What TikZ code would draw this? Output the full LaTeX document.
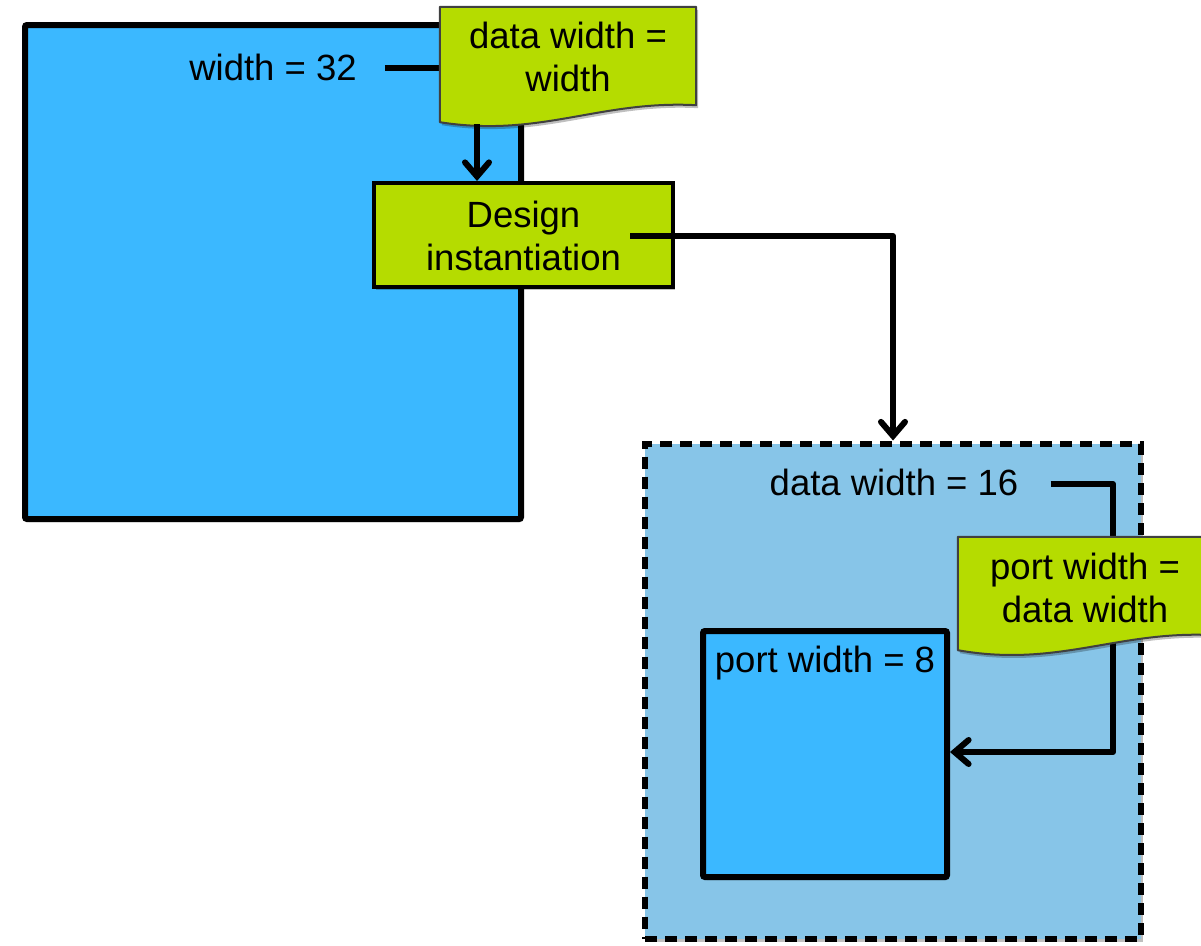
\documentclass[tikz,border=0pt]{standalone}
\usepackage{fontspec}
\setmainfont{Liberation Sans}
\usetikzlibrary{arrows.meta,shadows}
\definecolor{bigblue}{RGB}{59,184,255}
\definecolor{lightblue}{RGB}{135,197,232}
\definecolor{docgreen}{RGB}{181,220,0}
\begin{document}
\begin{tikzpicture}[x=1pt,y=-1pt,
  lbl/.style={font=\fontsize{36.5}{43}\selectfont, align=center, inner sep=0pt},
  softshadow/.style={drop shadow={shadow xshift=2pt,shadow yshift=-3pt,opacity=0.25,fill=black}},
  blockbox/.style={draw=black, line width=6pt, fill=bigblue, rounded corners=2pt, inner sep=0pt, softshadow},
  dashbox/.style={draw=black, line width=6pt, fill=lightblue, dash pattern=on 12pt off 8pt, inner sep=0pt, softshadow},
  greenbox/.style={draw=black, line width=4pt, fill=docgreen, inner sep=0pt, softshadow},
  docframe/.style={draw=none, inner sep=0pt},
  docpath/.style={draw=black!75, line width=2pt, fill=docgreen, line join=round, softshadow},
  conn/.style={line width=6pt, line join=round},
  tip/.style={-{Straight Barb[length=14pt,width=24pt,line cap=round]}}
]
\useasboundingbox (0,0) rectangle (1201,945);
\clip (0,0) rectangle (1201,945);

% top-level design
\node[blockbox, minimum width=496pt, minimum height=494pt] (top) at (273,272) {};
\node[lbl] (w32) at (273,67) {width = 32};

% document 1 frame
\node[docframe, minimum width=256pt, minimum height=115pt] (doc1) at (568,64.5) {};
\draw[conn] ([xshift=28pt,yshift=-1pt]w32.east) -- ([yshift=-1pt]w32.east -| doc1.west);
\path[docpath] (doc1.north west) -- (doc1.north east) -- ([yshift=17pt]doc1.south east)
  .. controls (600,100) and (540,138) .. (doc1.south west) -- cycle;
\node[lbl] (doc1txt) at (568,57) {data width =\\width};

% design instantiation
\node[greenbox, minimum width=299pt, minimum height=104pt] (inst) at (523.5,235) {};
\node[lbl] (insttxt) at (523.5,236) {Design\\instantiation};
\coordinate (a1) at (477,124);
\draw[conn,tip] (a1) -- (a1 |- inst.north);

% instantiated block
\node[dashbox, minimum width=496pt, minimum height=495pt] (sub) at (893,691) {};
\coordinate (d1) at (630,236);
\draw[conn,tip] (d1) -| (sub.north);

\node[blockbox, minimum width=244pt, minimum height=246pt] (port) at (825,754) {};
\node[lbl] (pw8) at (825,663) {port width = 8};
\node[lbl] (dw16) at (894,482) {data width = 16};
\coordinate (c2) at (1113,752);
\draw[conn,tip] ([xshift=32pt,yshift=-2pt]dw16.east) -| (c2) -- (c2 -| port.east);

% document 2
\node[docframe, minimum width=256pt, minimum height=113pt] (doc2) at (1086,593.5) {};
\path[docpath] (doc2.north west) -- (doc2.north east) -- ([yshift=15pt]doc2.south east)
  .. controls (1118,630) and (1058,668) .. (doc2.south west) -- cycle;
\node[lbl] (doc2txt) at (1085,588) {port width =\\data width};
\end{tikzpicture}
\end{document}
